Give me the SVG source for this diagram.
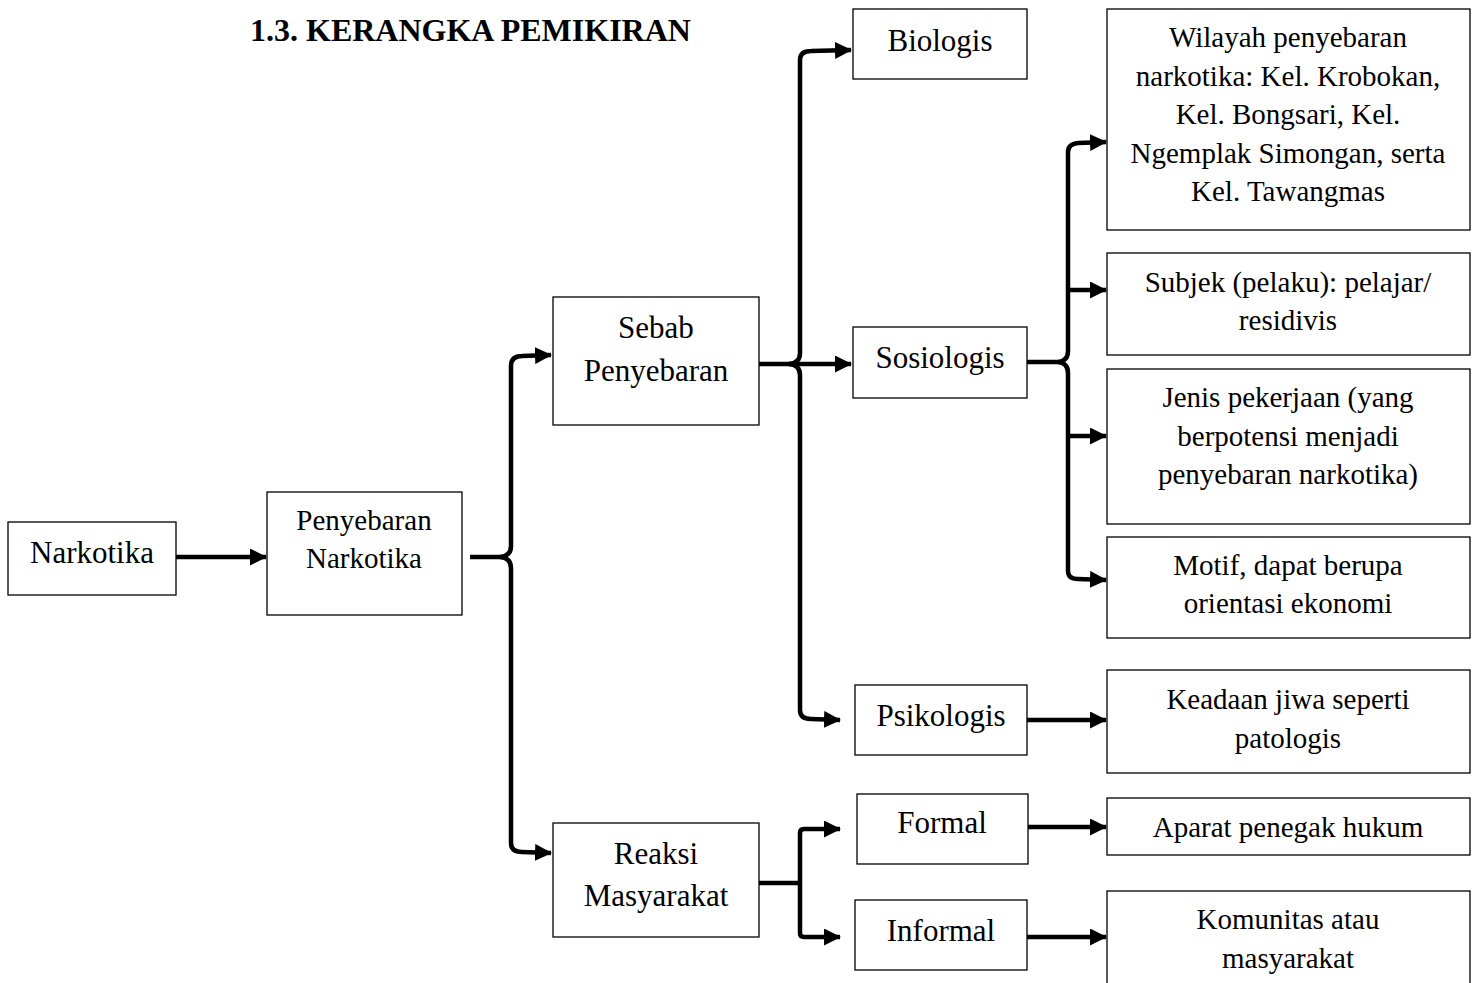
<svg xmlns="http://www.w3.org/2000/svg" width="1477" height="983" viewBox="0 0 1477 983">
<style>
.box{fill:#fff;stroke:#000;stroke-width:1.3}
.t{font-family:"Liberation Serif","Times New Roman",serif;font-size:31px;fill:#000;text-anchor:middle}
.s{font-family:"Liberation Serif","Times New Roman",serif;font-size:29px;fill:#000;text-anchor:middle}
.title{font-family:"Liberation Serif","Times New Roman",serif;font-size:32px;font-weight:bold;fill:#000}
.c{fill:none;stroke:#000;stroke-width:4.5;stroke-linejoin:round}
</style>
<defs>
<marker id="ah" markerUnits="userSpaceOnUse" markerWidth="17" markerHeight="17" refX="16" refY="8.5" orient="auto">
<path d="M0,0 L17,8.5 L0,17 Z" fill="#000"/>
</marker>
</defs>
<rect width="1477" height="983" fill="#fff"/>
<text class="title" x="250" y="41">1.3. KERANGKA PEMIKIRAN</text>

<g id="connectors">
<path class="c" d="M176,557 L266,557" marker-end="url(#ah)"/>
<path class="c" d="M470,557 L500,557 Q511,556 511,546 L511,366 Q511,356 522,356 L551,355" marker-end="url(#ah)"/>
<path class="c" d="M500,557 Q511,558 511,568 L511,843 Q511,852 522,852 L551,853" marker-end="url(#ah)"/>
<path class="c" d="M759,364 L789,364 Q800,363 800,353 L800,60 Q800,51 811,51 L851,50" marker-end="url(#ah)"/>
<path class="c" d="M789,364 Q800,365 800,375 L800,710 Q800,719 811,719 L840,720" marker-end="url(#ah)"/>
<path class="c" d="M789,364 L851,364" marker-end="url(#ah)"/>
<path class="c" d="M1027,362 L1058,362 Q1068,361 1068,351 L1068,152 Q1068,144 1078,143 L1106,142" marker-end="url(#ah)"/>
<path class="c" d="M1058,362 Q1068,363 1068,373 L1068,571 Q1068,579 1078,579 L1106,580" marker-end="url(#ah)"/>
<path class="c" d="M1068,290 L1106,290" marker-end="url(#ah)"/>
<path class="c" d="M1068,436 L1106,436" marker-end="url(#ah)"/>
<path class="c" d="M1027,720 L1106,720" marker-end="url(#ah)"/>
<path class="c" d="M759,883 L800,883 M800,883 L800,833 Q800,829 804,829 L840,829" marker-end="url(#ah)"/>
<path class="c" d="M800,883 L800,933 Q800,937 804,937 L840,937" marker-end="url(#ah)"/>
<path class="c" d="M1028,827 L1106,827" marker-end="url(#ah)"/>
<path class="c" d="M1027,937 L1106,937" marker-end="url(#ah)"/>
</g>

<g id="narkotika"><rect class="box" x="8" y="522" width="168" height="73"/><text class="t" x="92" y="563">Narkotika</text></g>
<g id="penyebaran"><rect class="box" x="267" y="492" width="195" height="123"/><text class="s" x="364" y="530">Penyebaran</text><text class="s" x="364" y="568">Narkotika</text></g>
<g id="sebab"><rect class="box" x="553" y="297" width="206" height="128"/><text class="t" x="656" y="338">Sebab</text><text class="t" x="656" y="381">Penyebaran</text></g>
<g id="reaksi"><rect class="box" x="553" y="823" width="206" height="114"/><text class="t" x="656" y="864">Reaksi</text><text class="t" x="656" y="906">Masyarakat</text></g>
<g id="biologis"><rect class="box" x="853" y="9" width="174" height="70"/><text class="t" x="940" y="51">Biologis</text></g>
<g id="sosiologis"><rect class="box" x="853" y="327" width="174" height="71"/><text class="t" x="940" y="368">Sosiologis</text></g>
<g id="psikologis"><rect class="box" x="855" y="685" width="172" height="70"/><text class="t" x="941" y="726">Psikologis</text></g>
<g id="formal"><rect class="box" x="857" y="794" width="171" height="70"/><text class="t" x="942" y="833">Formal</text></g>
<g id="informal"><rect class="box" x="855" y="900" width="172" height="70"/><text class="t" x="941" y="941">Informal</text></g>
<g id="wilayah"><rect class="box" x="1107" y="9" width="363" height="221"/>
<text class="s" x="1288" y="47">Wilayah penyebaran</text>
<text class="s" x="1288" y="86">narkotika: Kel. Krobokan,</text>
<text class="s" x="1288" y="124">Kel. Bongsari, Kel.</text>
<text class="s" x="1288" y="163">Ngemplak Simongan, serta</text>
<text class="s" x="1288" y="201">Kel. Tawangmas</text></g>
<g id="subjek"><rect class="box" x="1107" y="253" width="363" height="102"/>
<text class="s" x="1288" y="292">Subjek (pelaku): pelajar/</text>
<text class="s" x="1288" y="330">residivis</text></g>
<g id="jenis"><rect class="box" x="1107" y="369" width="363" height="155"/>
<text class="s" x="1288" y="407">Jenis pekerjaan (yang</text>
<text class="s" x="1288" y="446">berpotensi menjadi</text>
<text class="s" x="1288" y="484">penyebaran narkotika)</text></g>
<g id="motif"><rect class="box" x="1107" y="537" width="363" height="101"/>
<text class="s" x="1288" y="575">Motif, dapat berupa</text>
<text class="s" x="1288" y="613">orientasi ekonomi</text></g>
<g id="keadaan"><rect class="box" x="1107" y="670" width="363" height="103"/>
<text class="s" x="1288" y="709">Keadaan jiwa seperti</text>
<text class="s" x="1288" y="748">patologis</text></g>
<g id="aparat"><rect class="box" x="1107" y="798" width="363" height="57"/>
<text class="s" x="1288" y="837">Aparat penegak hukum</text></g>
<g id="komunitas"><rect class="box" x="1107" y="891" width="363" height="100"/>
<text class="s" x="1288" y="929">Komunitas atau</text>
<text class="s" x="1288" y="968">masyarakat</text></g>
</svg>
